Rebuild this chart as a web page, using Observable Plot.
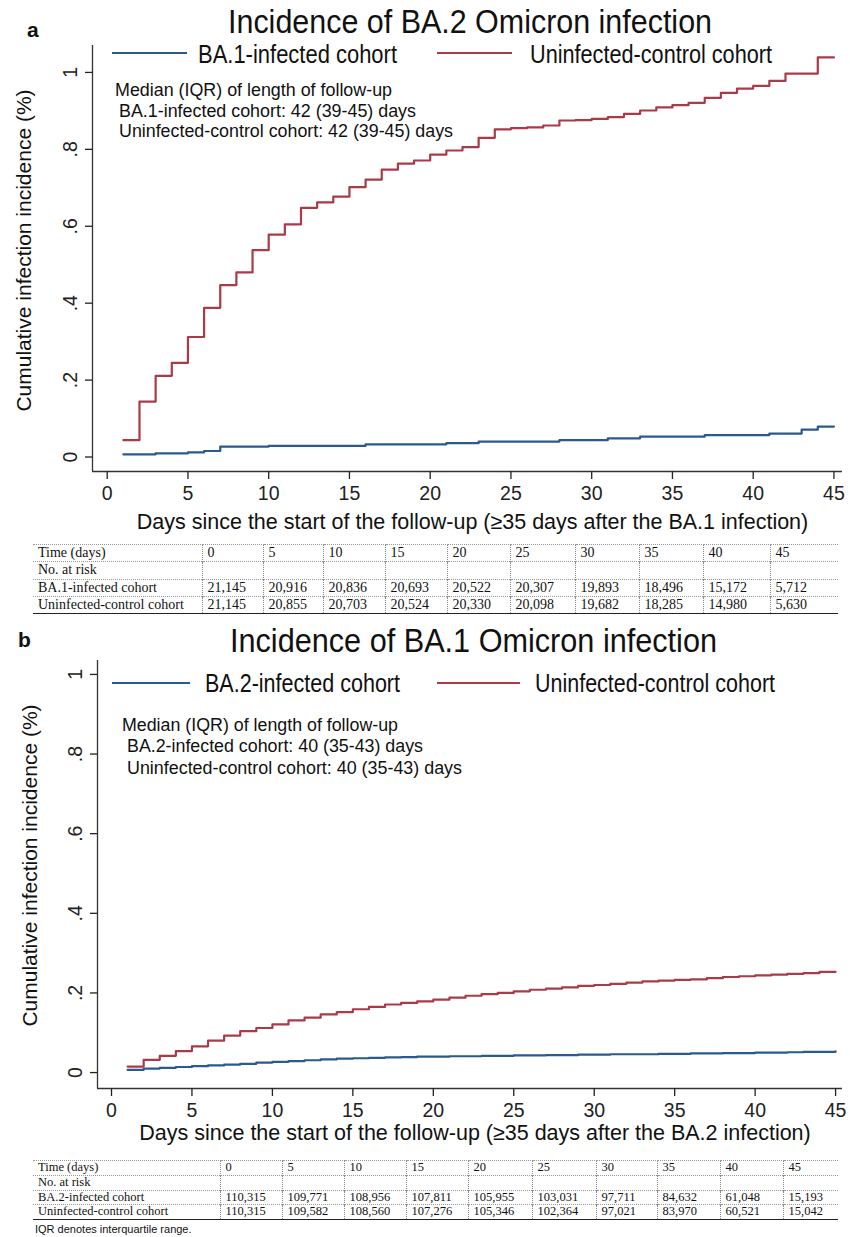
<!DOCTYPE html>
<html><head><meta charset="utf-8">
<script src="https://cdn.jsdelivr.net/npm/d3@7"></script>
<script src="https://cdn.jsdelivr.net/npm/@observablehq/plot@0.6"></script>
<style>
body{margin:0;background:#fff;}
#root{position:relative;width:850px;height:1237px;overflow:hidden;background:#fff;font-family:"Liberation Sans",Arial,sans-serif;color:#111;}
.abs{position:absolute;white-space:pre;transform-origin:0 50%;}
.svgwrap{position:absolute;left:0;}
table.risk{position:absolute;border-collapse:collapse;font-family:"Liberation Serif","Times New Roman",serif;color:#111;table-layout:fixed;}
table.risk td{padding:0 0 0 5px;white-space:nowrap;overflow:hidden;border-left:1px dotted #888;border-top:1px dotted #999;}
table.risk td:first-child{border-left:none;}
table.risk tr:first-child td{border-top:1.3px solid #222;}
table.risk tr:last-child td{border-bottom:1.3px solid #222;}
.legline{position:absolute;height:0;border-top:2.2px solid;}
</style>
</head><body><div id="root"></div>
<script>
// ---------------- data ----------------
const days = [1,2,3,4,5,6,7,8,9,10,11,12,13,14,15,16,17,18,19,20,21,22,23,24,25,26,27,28,29,30,31,32,33,34,35,36,37,38,39,40,41,42,43,44,45];

// Panel a: incidence of BA.2 infection (%)
const aInfected = [0.007,0.007,0.0096,0.0096,0.012,0.0156,0.027,0.027,0.027,0.029,0.029,0.029,0.029,0.029,0.029,0.033,0.033,0.033,0.033,0.033,0.036,0.036,0.040,0.040,0.040,0.040,0.040,0.044,0.044,0.044,0.0485,0.0485,0.053,0.053,0.053,0.053,0.057,0.057,0.057,0.057,0.061,0.061,0.071,0.079,0.079];
const aControl = [0.044,0.144,0.211,0.245,0.312,0.388,0.447,0.480,0.538,0.578,0.605,0.648,0.662,0.677,0.702,0.721,0.747,0.763,0.771,0.786,0.797,0.806,0.830,0.852,0.855,0.857,0.862,0.875,0.876,0.879,0.884,0.892,0.901,0.909,0.915,0.921,0.934,0.947,0.958,0.965,0.978,0.997,0.997,1.039,1.039];

// Panel b: incidence of BA.1 infection (%)
const bInfected = [0.007,0.010,0.012,0.014,0.016,0.018,0.020,0.022,0.025,0.027,0.029,0.031,0.033,0.035,0.036,0.037,0.038,0.039,0.040,0.040,0.041,0.041,0.042,0.042,0.043,0.043,0.044,0.044,0.045,0.045,0.046,0.046,0.046,0.047,0.047,0.048,0.048,0.049,0.049,0.050,0.050,0.051,0.052,0.052,0.053];
const bControl = [0.015,0.032,0.042,0.054,0.066,0.080,0.093,0.104,0.112,0.121,0.131,0.138,0.146,0.152,0.159,0.165,0.171,0.175,0.179,0.183,0.188,0.193,0.197,0.200,0.204,0.208,0.211,0.214,0.218,0.220,0.223,0.226,0.229,0.231,0.233,0.234,0.237,0.240,0.242,0.244,0.246,0.248,0.250,0.253,0.253];

const xTicks = [0,5,10,15,20,25,30,35,40,45];
const yTicks = [0,0.2,0.4,0.6,0.8,1];
const yTickLabels = ["0",".2",".4",".6",".8","1"];

const timeHeader = ["Time (days)","0","5","10","15","20","25","30","35","40","45"];
const aRiskInfected = ["21,145","20,916","20,836","20,693","20,522","20,307","19,893","18,496","15,172","5,712"];
const aRiskControl  = ["21,145","20,855","20,703","20,524","20,330","20,098","19,682","18,285","14,980","5,630"];
const bRiskInfected = ["110,315","109,771","108,956","107,811","105,955","103,031","97,711","84,632","61,048","15,193"];
const bRiskControl  = ["110,315","109,582","108,560","107,276","105,346","102,364","97,021","83,970","60,521","15,042"];

const BLUE = "#2b5a8c", RED = "#ab3a48";
const root = document.getElementById("root");

// place a text by its left edge and baseline; optionally squeeze it horizontally to a target width (narrow font look)
function text(str, left, baseline, size, opts={}) {
  const L = opts.lh || 0.9;
  const d = document.createElement("div");
  d.className = "abs";
  d.textContent = str;
  d.style.lineHeight = L;
  d.style.left = left + "px";
  d.style.top = (baseline - (L/2 + 0.3465)*size) + "px";
  d.style.fontSize = size + "px";
  if (opts.bold) d.style.fontWeight = "bold";
  root.appendChild(d);
  if (opts.width) {
    const w = d.getBoundingClientRect().width;
    if (w > 0) d.style.transform = "scaleX(" + (opts.width / w) + ")";
  }
  return d;
}
function legLine(x1, x2, y, color) {
  const d = document.createElement("div");
  d.className = "legline";
  d.style.left = x1 + "px"; d.style.width = (x2-x1) + "px";
  d.style.top = (y-1.1) + "px"; d.style.borderTopColor = color;
  root.appendChild(d);
}
function series(vals){ return days.map((d,i)=>({day:d, value:vals[i]})); }

function panel(cfg) {
  const chart = Plot.plot({
    width: 850, height: 540,
    marginLeft: cfg.marginLeft, marginRight: 8, marginTop: cfg.marginTop, marginBottom: cfg.marginBottom,
    x: {domain: cfg.xDomain},
    y: {domain: cfg.yDomain},
    style: {fontFamily: '"Liberation Sans", Arial, sans-serif', color: "#222", background: "transparent", overflow: "visible"},
    marks: [
      Plot.ruleY([cfg.yDomain[0]], {stroke: "#333", strokeWidth: 1.3}),
      Plot.ruleX([cfg.xDomain[0]], {stroke: "#333", strokeWidth: 1.3}),
      Plot.axisX({ticks: xTicks, tickSize: 8, tickPadding: 7, fontSize: 19.5, label: null, strokeWidth: 1.3}),
      Plot.axisY({ticks: yTicks, tickSize: 7, tickPadding: 9, tickRotate: -90, fontSize: 19.5, label: null, strokeWidth: 1.3,
                  tickFormat: d => yTickLabels[yTicks.findIndex(t => Math.abs(t-d) < 1e-9)]}),
      Plot.line(series(cfg.infected), {x: "day", y: "value", curve: "step-after", stroke: BLUE, strokeWidth: 2.2}),
      Plot.line(series(cfg.control), {x: "day", y: "value", curve: "step-after", stroke: RED, strokeWidth: 2.2}),
      Plot.text([cfg.xLabel], {text: d => d, frameAnchor: "bottom", textAnchor: "middle", dx: 5, dy: cfg.xLabelDy, fontSize: 21.5, fill: "#111"}),
      Plot.text(["Cumulative infection incidence (%)"], {text: d => d, frameAnchor: "left", textAnchor: "middle", rotate: -90, dx: cfg.yLabelDx, dy: cfg.yLabelDy, fontSize: 21, fill: "#111"})
    ]
  });
  const w = document.createElement("div");
  w.className = "svgwrap";
  w.style.top = cfg.top + "px";
  w.appendChild(chart);
  root.appendChild(w);
}

function riskTable(top, height, firstW, colW, fontSize, labels, inf, ctrl) {
  const t = document.createElement("table");
  t.className = "risk";
  t.style.left = "33px"; t.style.top = top + "px";
  const total = firstW + colW.reduce((a,b)=>a+b,0);
  t.style.width = total + "px";
  t.style.fontSize = fontSize + "px";
  const cg = document.createElement("colgroup");
  [firstW, ...colW].forEach(w => { const c = document.createElement("col"); c.style.width = w + "px"; cg.appendChild(c); });
  t.appendChild(cg);
  const rows = [timeHeader, ["No. at risk","","","","","","","","","",""], [labels[0], ...inf], [labels[1], ...ctrl]];
  rows.forEach(r => {
    const tr = document.createElement("tr");
    tr.style.height = height + "px";
    r.forEach(c => { const td = document.createElement("td"); td.textContent = c; td.style.lineHeight = (height-1) + "px"; tr.appendChild(td); });
    t.appendChild(tr);
  });
  root.appendChild(t);
}

// ---------------- panel a ----------------
panel({top: 0, marginLeft: 92, marginTop: 45, marginBottom: 69,
  xDomain: [-0.91, 45.53], yDomain: [-0.0377, 1.070],
  infected: aInfected, control: aControl,
  xLabel: "Days since the start of the follow-up (\u226535 days after the BA.1 infection)",
  xLabelDy: 57, yLabelDx: -68, yLabelDy: -8});
text("a", 27, 38, 21, {bold: true});
text("Incidence of BA.2 Omicron infection", 228, 33, 34, {width: 484});
legLine(112, 187, 53, BLUE);
text("BA.1-infected cohort", 198, 63.8, 25.5, {width: 199});
legLine(437, 512, 53, RED);
text("Uninfected-control cohort", 530, 63.8, 25.5, {width: 242});
text("Median (IQR) of length of follow-up", 115, 96.5, 18.3, {width: 277});
text("BA.1-infected cohort: 42 (39-45) days", 119, 117.5, 18.3, {width: 297});
text("Uninfected-control cohort: 42 (39-45) days", 119, 137.5, 18.3, {width: 334});
riskTable(544, 17.25, 169, [61,60,62,62,63,65,64,64,67,68], 14, ["BA.1-infected cohort","Uninfected-control cohort"], aRiskInfected, aRiskControl);

// ---------------- panel b ----------------
panel({top: 620, marginLeft: 97, marginTop: 40, marginBottom: 72,
  xDomain: [-0.87, 45.43], yDomain: [-0.040, 1.035],
  infected: bInfected, control: bControl,
  xLabel: "Days since the start of the follow-up (\u226535 days after the BA.2 infection)",
  xLabelDy: 51, yLabelDx: -67, yLabelDy: -9});
text("b", 18, 648, 21, {bold: true});
text("Incidence of BA.1 Omicron infection", 230, 652, 34, {width: 487});
legLine(112, 190, 683, BLUE);
text("BA.2-infected cohort", 205, 692.5, 26, {width: 195});
legLine(437, 520, 683, RED);
text("Uninfected-control cohort", 535, 692.5, 26, {width: 240});
text("Median (IQR) of length of follow-up", 122, 731.5, 18.3, {width: 276});
text("BA.2-infected cohort: 40 (35-43) days", 127, 752.5, 18.3, {width: 296});
text("Uninfected-control cohort: 40 (35-43) days", 127, 774.5, 18.3, {width: 335});
riskTable(1160, 14.75, 187, [62,62,62,62,64,64,61,63,63,55], 12.5, ["BA.2-infected cohort","Uninfected-control cohort"], bRiskInfected, bRiskControl);
text("IQR denotes interquartile range.", 35, 1234, 11);
</script></body></html>
